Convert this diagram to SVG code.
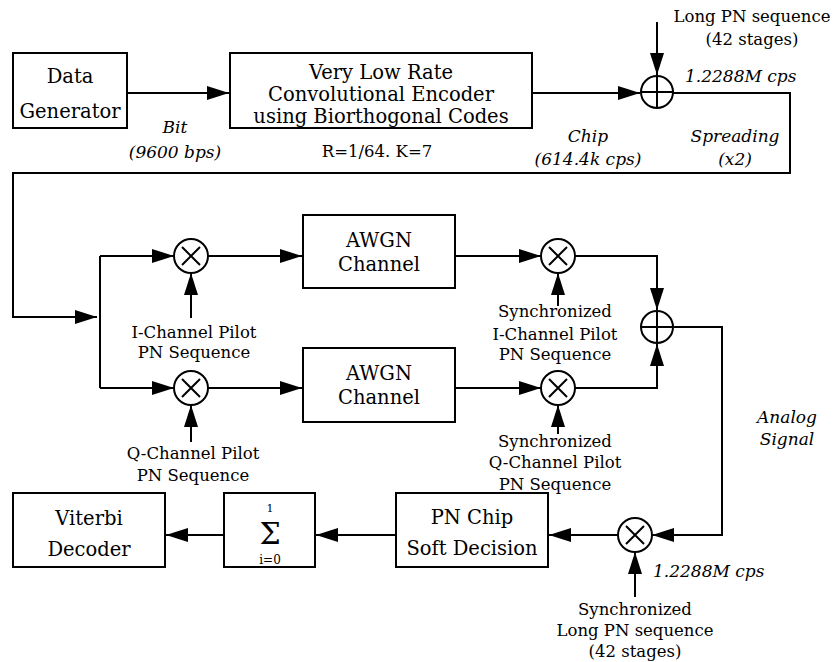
<svg xmlns="http://www.w3.org/2000/svg" width="840" height="662" viewBox="0 0 840 662">
<defs>
<marker id="arr" markerUnits="userSpaceOnUse" markerWidth="22" markerHeight="14" refX="22" refY="7" orient="auto">
<path d="M0,0 L22,7 L0,14 z" fill="#000"/>
</marker>
<style>
.box{fill:#fff;stroke:#000;stroke-width:2}
.op{fill:#fff;stroke:#000;stroke-width:2}
.sym{stroke:#000;stroke-width:2;fill:none}
.ln{fill:none;stroke:#000;stroke-width:2}
.a{marker-end:url(#arr)}
text{font-family:"DejaVu Serif","Liberation Serif",serif;fill:#000;text-anchor:middle}
.t{font-size:19.5px}
.s{font-size:16.5px}
.i{font-size:17px;font-style:italic}
.l{text-anchor:start}
</style>
</defs>
<rect width="840" height="662" fill="#fff"/>
<g id="connectors">
<path class="ln a" d="M127,93 L229,93"/>
<path class="ln a" d="M532,93 L640,93"/>
<path class="ln a" d="M657,22 L657,75"/>
<path class="ln a" d="M673,93 L790,93 L790,173 L13,173 L13,317 L97,317"/>
<path class="ln" d="M100,256 L100,388"/>
<path class="ln a" d="M100,256 L174,256"/>
<path class="ln a" d="M100,388 L174,388"/>
<path class="ln a" d="M191,318 L191,273"/>
<path class="ln a" d="M191,442 L191,405"/>
<path class="ln a" d="M208,256 L302,256"/>
<path class="ln a" d="M208,388 L302,388"/>
<path class="ln a" d="M455,256 L541,256"/>
<path class="ln a" d="M455,388 L541,388"/>
<path class="ln a" d="M558,306 L558,273"/>
<path class="ln a" d="M558,434 L558,405"/>
<path class="ln a" d="M575,256 L657,256 L657,310"/>
<path class="ln a" d="M575,388 L657,388 L657,344"/>
<path class="ln a" d="M674,327 L722,327 L722,535 L652,535"/>
<path class="ln a" d="M635,597 L635,552"/>
<path class="ln a" d="M618,535 L549,535"/>
<path class="ln a" d="M396,535 L316,535"/>
<path class="ln a" d="M224,535 L166,535"/>
</g>
<g id="data-generator">
<rect class="box" x="13" y="53" width="114" height="75"/>
<text class="t" x="70" y="83">Data</text>
<text class="t" x="70" y="118">Generator</text>
</g>
<g id="encoder">
<rect class="box" x="230" y="53" width="302" height="75"/>
<text class="t" x="381" y="79">Very Low Rate</text>
<text class="t" x="381" y="101">Convolutional Encoder</text>
<text class="t" x="381" y="123">using Biorthogonal Codes</text>
</g>
<g id="spread-adder">
<circle class="op" cx="657" cy="92" r="16"/>
<path class="sym" d="M641,92 H673 M657,76 V108"/>
</g>
<g id="mult-i">
<circle class="op" cx="191" cy="256" r="17"/>
<path class="sym" d="M182,247 L200,265 M200,247 L182,265"/>
</g>
<g id="mult-q">
<circle class="op" cx="191" cy="388" r="17"/>
<path class="sym" d="M182,379 L200,397 M200,379 L182,397"/>
</g>
<g id="awgn-i">
<rect class="box" x="303" y="215" width="152" height="73"/>
<text class="t" x="379" y="247">AWGN</text>
<text class="t" x="379" y="271">Channel</text>
</g>
<g id="awgn-q">
<rect class="box" x="303" y="348" width="152" height="74"/>
<text class="t" x="379" y="380">AWGN</text>
<text class="t" x="379" y="404">Channel</text>
</g>
<g id="demult-i">
<circle class="op" cx="558" cy="256" r="17"/>
<path class="sym" d="M549,247 L567,265 M567,247 L549,265"/>
</g>
<g id="demult-q">
<circle class="op" cx="558" cy="388" r="17"/>
<path class="sym" d="M549,379 L567,397 M567,379 L549,397"/>
</g>
<g id="combiner">
<circle class="op" cx="657" cy="327" r="16"/>
<path class="sym" d="M641,327 H673 M657,311 V343"/>
</g>
<g id="despread">
<circle class="op" cx="635" cy="535" r="17"/>
<path class="sym" d="M626,526 L644,544 M644,526 L626,544"/>
</g>
<g id="pn-chip">
<rect class="box" x="396" y="493" width="152" height="74"/>
<text class="t" x="472" y="524">PN Chip</text>
<text class="t" x="472" y="555">Soft Decision</text>
</g>
<g id="summer">
<rect class="box" x="224" y="493" width="91" height="74"/>
<text x="270" y="512" style="font-size:11px">1</text>
<text x="270" y="544" style="font-size:30px">Σ</text>
<text x="270" y="564" style="font-size:12px">i=0</text>
</g>
<g id="viterbi">
<rect class="box" x="13" y="493" width="152" height="74"/>
<text class="t" x="89" y="525">Viterbi</text>
<text class="t" x="89" y="556">Decoder</text>
</g>
<g id="labels">
<text class="i" x="175" y="133">Bit</text>
<text class="i" x="175" y="158">(9600 bps)</text>
<text class="s" x="377" y="157">R=1/64. K=7</text>
<text class="i" x="588" y="142">Chip</text>
<text class="i" x="588" y="165">(614.4k cps)</text>
<text class="i" x="735" y="142">Spreading</text>
<text class="i" x="735" y="165">(x2)</text>
<text class="s" x="752" y="22">Long PN sequence</text>
<text class="s" x="752" y="45">(42 stages)</text>
<text class="i l" x="685" y="82">1.2288M cps</text>
<text class="s" x="194" y="338">I-Channel Pilot</text>
<text class="s" x="194" y="358">PN Sequence</text>
<text class="s" x="555" y="317">Synchronized</text>
<text class="s" x="555" y="340">I-Channel Pilot</text>
<text class="s" x="555" y="360">PN Sequence</text>
<text class="s" x="193" y="459">Q-Channel Pilot</text>
<text class="s" x="193" y="481">PN Sequence</text>
<text class="s" x="555" y="447">Synchronized</text>
<text class="s" x="555" y="468">Q-Channel Pilot</text>
<text class="s" x="555" y="490">PN Sequence</text>
<text class="i" x="787" y="423">Analog</text>
<text class="i" x="787" y="445">Signal</text>
<text class="i l" x="653" y="577">1.2288M cps</text>
<text class="s" x="635" y="615">Synchronized</text>
<text class="s" x="635" y="636">Long PN sequence</text>
<text class="s" x="635" y="657">(42 stages)</text>
</g>
</svg>
